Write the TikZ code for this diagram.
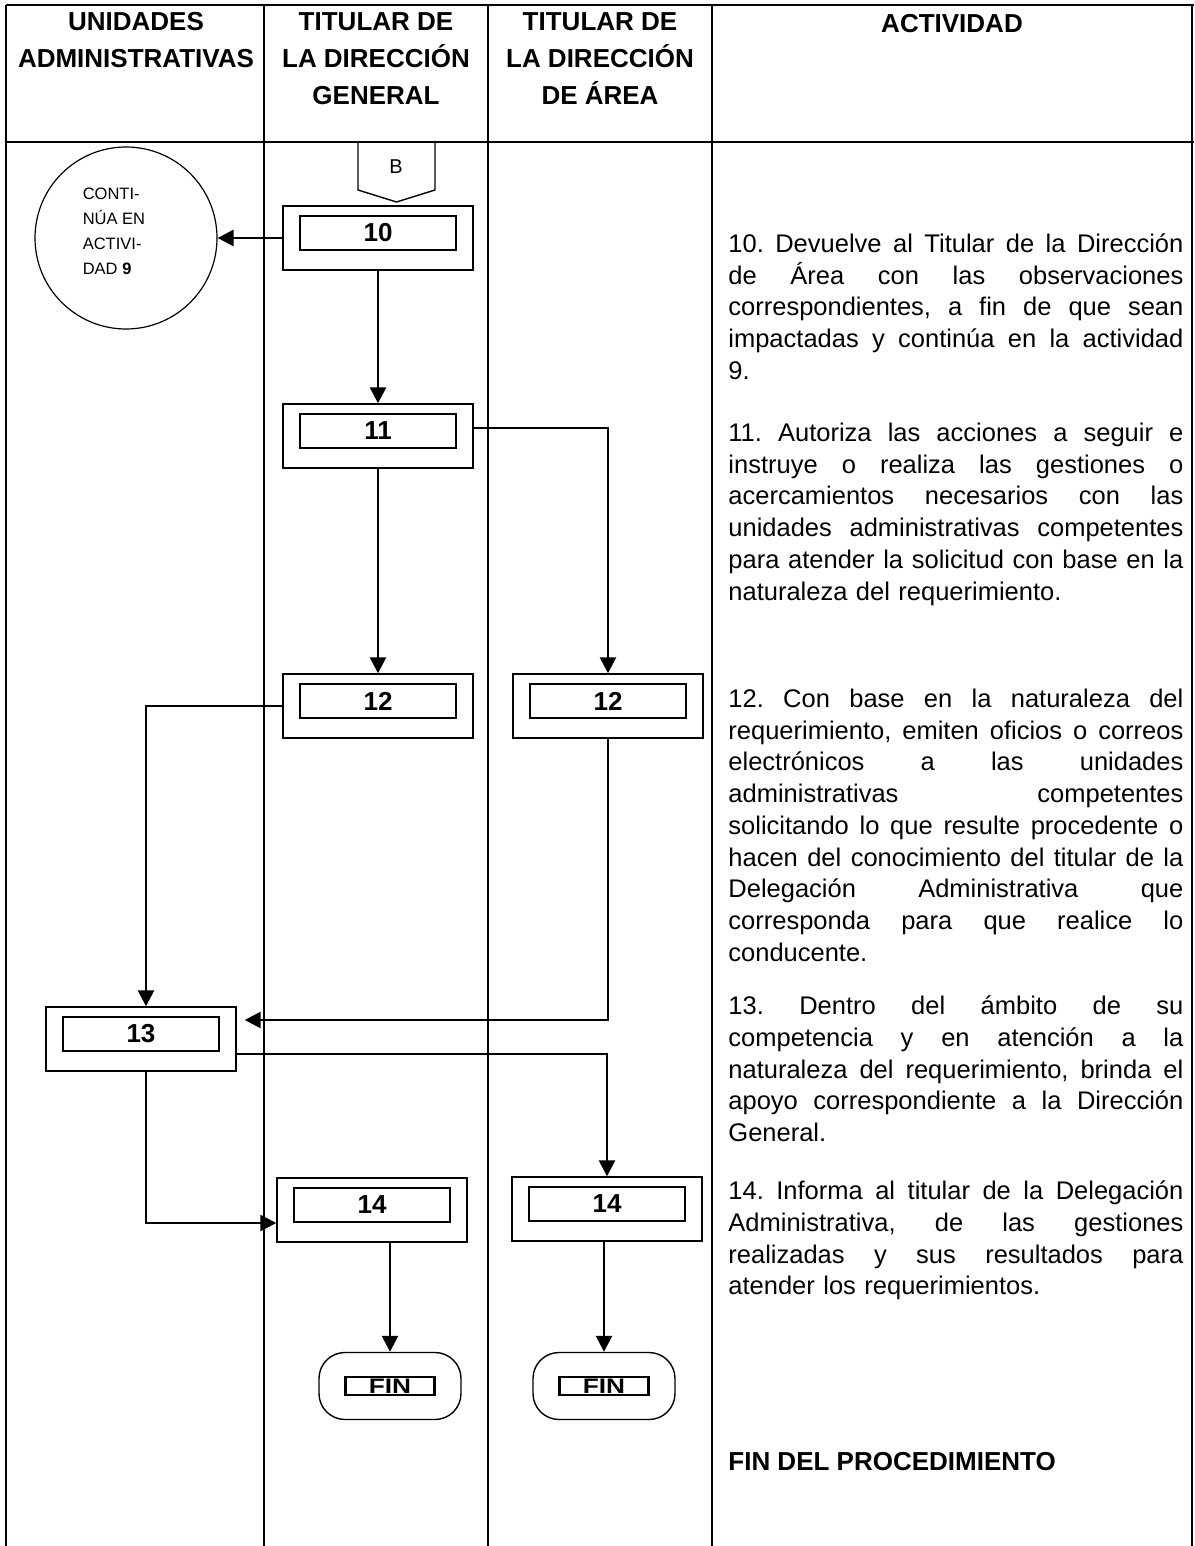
\documentclass[tikz,border=0pt]{standalone}
\usepackage{fontspec}
\setmainfont{Liberation Sans}
\usetikzlibrary{arrows.meta,calc}
\setlength\parindent{0pt}
\frenchspacing
% width of the activity column text
\newlength\actwidth
\setlength\actwidth{227.5pt}
% one justified line of the activity column: every space stretches equally
\newcommand\jline[1]{\leavevmode\hbox to \actwidth{\spaceskip=0.278em plus 1fil\relax #1}}
\begin{document}
\begin{tikzpicture}[x=0.5pt,y=-0.5pt,
  lane/.style={line width=0.7pt},
  rule/.style={line width=1.3pt},
  hdr/.style={anchor=base,inner sep=0,font=\fontsize{13}{13}\selectfont\bfseries},
  outerbox/.style={draw,line width=0.7pt,minimum width=95pt,minimum height=32pt,inner sep=0},
  innerbox/.style={draw,line width=1.3pt,minimum width=78pt,minimum height=17pt,inner sep=0,
    font=\fontsize{13}{13}\selectfont\bfseries},
  finbox/.style={draw,line width=0.7pt,rounded corners=13pt,minimum width=71pt,minimum height=33.5pt,inner sep=0},
  fintag/.style={draw,line width=1.1pt,minimum width=44.5pt,minimum height=9pt,inner sep=0,
    font=\fontsize{10.5}{10.5}\selectfont\bfseries},
  arr/.style={line width=1.3pt,-{Triangle[length=8pt,width=8pt]}},
  act/.style={anchor=north west,inner sep=0,text width=\actwidth,align=left,
    font=\fontsize{12.75}{15.85}\selectfont},
]
\useasboundingbox (0,0) rectangle (1194,1546);
\fill[white] (0,0) rectangle (1194,1546);

% table frame and swimlanes
\draw[rule] (6,5) -- (1194,5);
\draw[rule] (6,142) -- (1194,142);
\draw[lane] (6,5) -- (6,1546);
\draw[lane] (264,5) -- (264,1546);
\draw[lane] (488,5) -- (488,1546);
\draw[lane] (712,5) -- (712,1546);
\draw[lane] (1192,5) -- (1192,1546);

% column headings
\node[hdr] (h1a) at (136,31) {UNIDADES};
\node[hdr] (h1b) at (136,68) {ADMINISTRATIVAS};
\node[hdr] (h2a) at (376,31) {TITULAR DE};
\node[hdr] (h2b) at (376,68) {LA DIRECCIÓN};
\node[hdr] (h2c) at (376,105) {GENERAL};
\node[hdr] (h3a) at (600,31) {TITULAR DE};
\node[hdr] (h3b) at (600,68) {LA DIRECCIÓN};
\node[hdr] (h3c) at (600,105) {DE ÁREA};
\node[hdr] (h4) at (952,33) {ACTIVIDAD};

% off-page connector B
\draw[line width=0.7pt] (358,142) -- (358,190) -- (396.5,202) -- (435,190) -- (435,142);
\node[font=\fontsize{10}{10}\selectfont] (bcon) at (396,167) {B};

% return connector to activity 9
\node[draw,circle,line width=0.6pt,minimum size=91pt,inner sep=0] (cont) at (126,238) {};
\node[align=left,inner sep=0,font=\fontsize{8.25}{12.5}\selectfont] (conttxt) at (114,231)
  {CONTI-\\NÚA EN\\ACTIVI-\\DAD \textbf{9}};

% process boxes: thin outer frame with a heavy numbered box inside
\newcommand\flowbox[4]{%
  \node[outerbox] (#1) at (#2,#3) {};
  \node[innerbox] (#1i) at ([yshift=2.5pt]#1.center) {#4};}
\flowbox{b10}{378}{238}{10}
\flowbox{b11}{378}{436}{11}
\flowbox{b12g}{378}{706}{12}
\flowbox{b12a}{608}{706}{12}
\flowbox{b13}{141}{1039}{13}
\flowbox{b14g}{372}{1210}{14}
\flowbox{b14a}{607}{1209}{14}

% terminators
\node[finbox] (fin1) at (390,1386) {};
\node[fintag] (fin1i) at (fin1) {\scalebox{1.25}[1]{FIN}};
\node[finbox] (fin2) at (604,1386) {};
\node[fintag] (fin2i) at (fin2) {\scalebox{1.25}[1]{FIN}};

% connectors
\draw[arr] (b10.west) -- (b10.west -| cont.east);
\draw[arr] (b10.south) -- (b11.north);
\draw[arr] (b11.south) -- (b12g.north);
\draw[arr] ([yshift=4pt]b11.east) -| (b12a.north);
\draw[arr] (b12g.west) -| ([xshift=2.5pt]b13.north);
\draw[arr,shorten >=4pt] (b12a.south) |- ([yshift=9.5pt]b13.east);
\draw[arr] ([yshift=-7.5pt]b13.east) -| (b14a.north);
\draw[arr] ([xshift=2.5pt]b13.south) |- ([yshift=-6.5pt]b14g.west);
\draw[arr] (fin1.north |- b14g.south) -- (fin1.north);
\draw[arr] (fin2.north |- b14a.south) -- (fin2.north);

% activity descriptions
\node[act] (p10) at (728,230) {%
\jline{\strut 10. Devuelve al Titular de la Dirección}\\
\jline{de Área con las observaciones}\\
\jline{correspondientes, a fin de que sean}\\
\jline{impactadas y continúa en la actividad}\\
9.};
\node[act] (p11) at (728,419) {%
\jline{\strut 11. Autoriza las acciones a seguir e}\\
\jline{instruye o realiza las gestiones o}\\
\jline{acercamientos necesarios con las}\\
\jline{unidades administrativas competentes}\\
\jline{para atender la solicitud con base en la}\\
naturaleza del requerimiento.};
\node[act] (p12) at (728,685) {%
\jline{\strut 12. Con base en la naturaleza del}\\
\jline{requerimiento, emiten oficios o correos}\\
\jline{electrónicos a las unidades}\\
\jline{administrativas competentes}\\
\jline{solicitando lo que resulte procedente o}\\
\jline{hacen del conocimiento del titular de la}\\
\jline{Delegación Administrativa que}\\
\jline{corresponda para que realice lo}\\
conducente.};
\node[act] (p13) at (728,992) {%
\jline{\strut 13. Dentro del ámbito de su}\\
\jline{competencia y en atención a la}\\
\jline{naturaleza del requerimiento, brinda el}\\
\jline{apoyo correspondiente a la Dirección}\\
General.};
\node[act] (p14) at (728,1177) {%
\jline{\strut 14. Informa al titular de la Delegación}\\
\jline{Administrativa, de las gestiones}\\
\jline{realizadas y sus resultados para}\\
atender los requerimientos.};
\node[anchor=base west,inner sep=0,font=\fontsize{13}{13}\selectfont\bfseries] (endproc)
  at (728,1470) {FIN DEL PROCEDIMIENTO};
\end{tikzpicture}
\end{document}
